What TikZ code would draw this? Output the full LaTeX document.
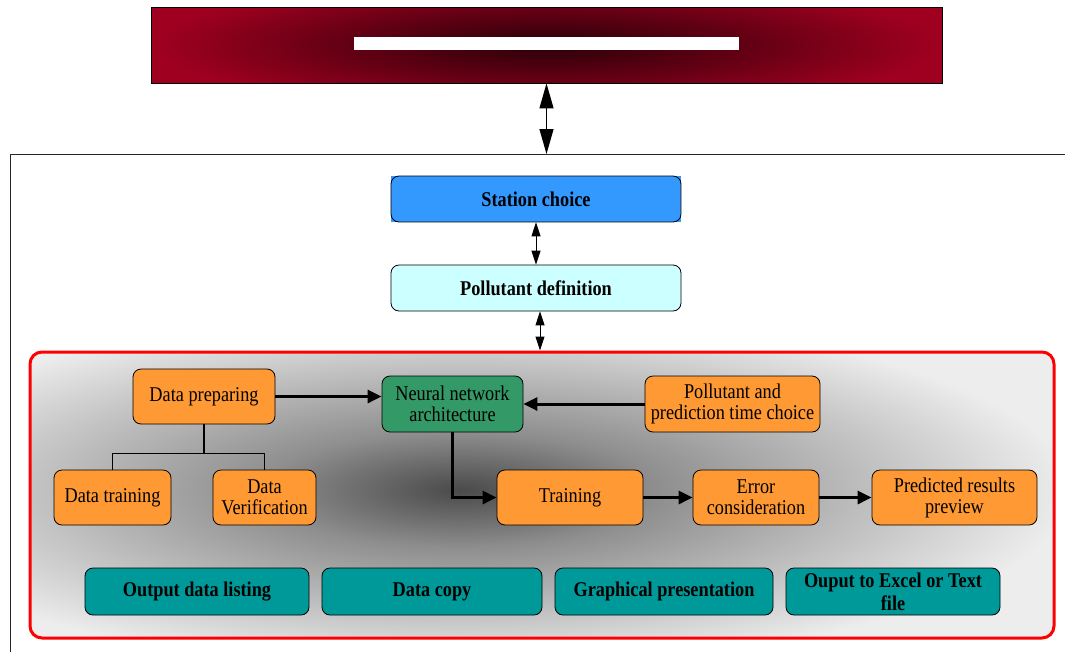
\documentclass[tikz,border=0pt]{standalone}
\usepackage{fontspec}
\setmainfont{Liberation Serif}[FakeStretch=0.87]
\usetikzlibrary{arrows.meta,calc}
\pgfdeclarelayer{bg}
\pgfdeclarelayer{mid}
\pgfsetlayers{bg,mid,main}
\definecolor{orng}{HTML}{FF9933}
\definecolor{nngreen}{HTML}{339966}
\definecolor{bluec}{HTML}{3399FF}
\definecolor{cyanl}{HTML}{CCFFFF}
\definecolor{tealc}{HTML}{009999}
\definecolor{topred}{HTML}{A00020}
\definecolor{topdark}{HTML}{2A0008}
\definecolor{gA}{HTML}{4A4A4A}
\definecolor{gB}{HTML}{8E8E8E}
\definecolor{gC}{HTML}{EDEDED}
\pgfdeclareradialshading{grayrad}{\pgfpoint{0bp}{0bp}}{color(0bp)=(gA); color(8bp)=(gB); color(25bp)=(gC); color(50bp)=(gC)}
\pgfdeclareradialshading{redrad}{\pgfpoint{0bp}{0bp}}{color(0bp)=(topdark); color(12bp)=(topdark!55!topred); color(25bp)=(topred); color(50bp)=(topred)}
\begin{document}
\begin{tikzpicture}[x=1pt,y=-1pt,
  fnt/.style={font=\fontsize{21}{21}\selectfont},
  bx/.style={draw=black, line width=0.8pt, rounded corners=8pt, align=center, inner sep=0pt, fnt},
  ob/.style={bx, fill=orng},
  tb/.style={bx, fill=tealc, font=\fontsize{21}{23}\selectfont\bfseries},
  dblbig/.style={{Triangle[length=25pt,width=14pt]}-{Triangle[length=25pt,width=14pt]}, line width=1.2pt},
  dbl/.style={{Triangle[length=14pt,width=9pt]}-{Triangle[length=14pt,width=9pt]}, line width=1pt},
  arr/.style={-{Triangle[length=14pt,width=13pt]}, line width=3pt},
  tree/.style={line width=1.2pt}]

\useasboundingbox (0,0) rectangle (1065,651);

% ---- top banner ----
\begin{scope}
  \clip (151,7) rectangle (942,83);
  \shade[shading=redrad] (151.5,-20) rectangle (941.5,110);
\end{scope}
\node[draw=black, line width=0.8pt, minimum width=791pt, minimum height=76pt, inner sep=0pt] (top) at (546.5,45) {};
\node[fill=white, minimum width=385pt, minimum height=13pt, inner sep=0pt] (bar) at (546.5,43.5) {};

% ---- outer frame ----
\draw[line width=0.8pt, black!85] (1075,154) -- (10,154) -- (10,660);
\coordinate (ft) at (546.5,154);

% ---- upper nodes ----
\node[bx, font=\fontsize{21}{21}\selectfont\bfseries, minimum width=290pt, minimum height=46pt] (sc) at (536,199) {Station choice};
\node[bx, fill=cyanl, font=\fontsize{21}{21}\selectfont\bfseries, minimum width=290pt, minimum height=46pt] (pd) at (536,288) {Pollutant definition};

% ---- red panel ----
\begin{scope}
  \clip[rounded corners=12pt] (30,352) rectangle (1054,638);
  \shade[shading=grayrad] (-150,310) rectangle (1070,670);
\end{scope}
\node[draw=red, line width=3pt, rounded corners=12pt, minimum width=1024pt, minimum height=286pt, inner sep=0pt] (rf) at (542,495) {};

% ---- inner nodes ----
\node[ob, minimum width=142pt, minimum height=55pt] (dp) at (204,396.5) {Data preparing};
\node[bx, fill=nngreen, minimum width=141pt, minimum height=56pt] (nn) at (452.5,404) {Neural network\\architecture};
\node[ob, minimum width=175pt, minimum height=56pt] (pt) at (732.5,404) {Pollutant and\\prediction time choice};
\node[ob, minimum width=117pt, minimum height=55pt] (dt) at (112.5,497.5) {Data training};
\node[ob, minimum width=103pt, minimum height=55pt] (dv) at (264.5,497.5) {Data\\Verification};
\node[ob, minimum width=146pt, minimum height=55pt] (tr) at (570,497.5) {Training};
\node[ob, minimum width=126pt, minimum height=55pt] (er) at (756,497.5) {Error\\consideration};
\node[ob, minimum width=165pt, minimum height=55pt] (pr) at (954.5,497.5) {Predicted results\\preview};

\node[tb, minimum width=224pt, minimum height=47pt] (o1) at (197,591.5) {Output data listing};
\node[tb, minimum width=220pt, minimum height=47pt] (o2) at (432,591.5) {Data copy};
\node[tb, minimum width=218pt, minimum height=47pt] (o3) at (664,591.5) {Graphical presentation};
\node[tb, minimum width=214pt, minimum height=47pt] (o4) at (893,591.5) {Ouput to Excel or Text\\file};

% sharp-cornered fills behind rounded outlines
\begin{pgfonlayer}{mid}
  \fill[bluec] (sc.south west) rectangle (sc.north east);
  \foreach \n in {o1,o2,o3,o4} \fill[tealc] (\n.south west) rectangle (\n.north east);
\end{pgfonlayer}

% ---- connectors ----
\draw[dblbig] (top.south) -- (ft);
\draw[dbl] (sc.south) -- (pd.north);
\coordinate (pa) at ($(pd.south)+(4,0)$);
\draw[dbl] (pa) -- (pa |- rf.north);

\draw[arr] (dp.east) -- (dp.east -| nn.west);
\draw[arr] (pt.west) -- (nn.east);
\draw[arr] (nn.south) |- (tr.west);
\draw[arr] (tr.east) -- (er.west);
\draw[arr] (er.east) -- (pr.west);

\draw[tree] (dp.south) -- ++(0,29) coordinate (jn);
\draw[tree] (dt.north) |- (jn) -| (dv.north);
\end{tikzpicture}
\end{document}
